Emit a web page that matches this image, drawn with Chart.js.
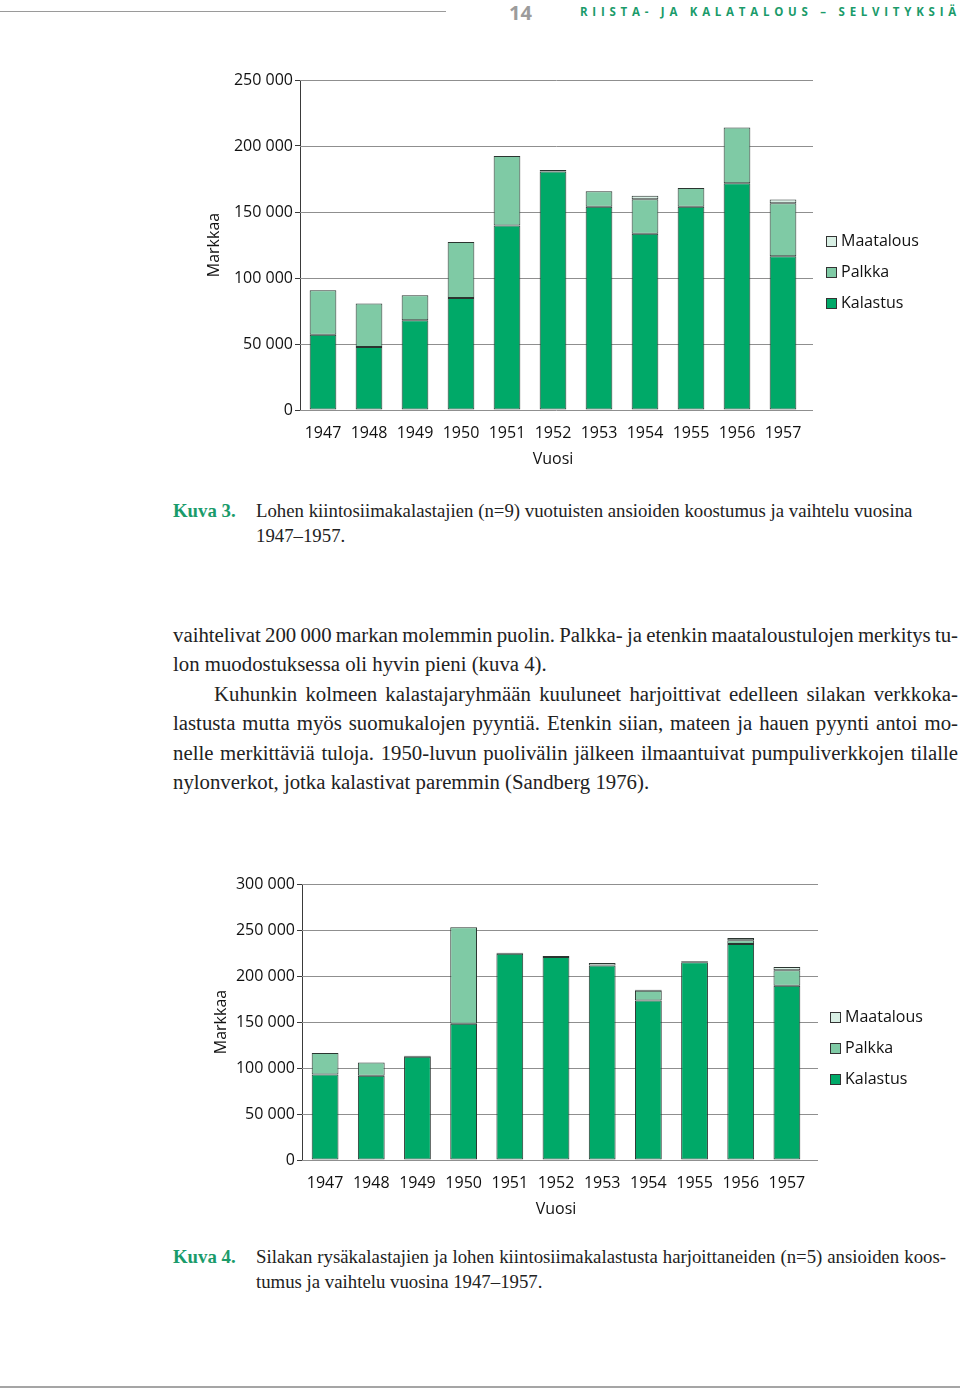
<!DOCTYPE html>
<html lang="fi">
<head>
<meta charset="utf-8">
<title>Kuva 3 ja Kuva 4</title>
<script src="https://cdn.jsdelivr.net/npm/chart.js@4.4.1/dist/chart.umd.min.js"></script>
<style>
  html, body { margin: 0; padding: 0; background: #fff; }
  body { width: 960px; height: 1391px; position: relative; overflow: hidden; }
  .abs { position: absolute; }
  .rule { position: absolute; height: 1px; background: #9a9a9a; }
  .pageno { left: 509px; top: -1px; font: bold 20px "Open Sans", sans-serif; color: #9c9c9c; }
  .series { left: 580px; top: 4px; font: bold 11.5px "Open Sans", sans-serif; color: #1a9b6a; letter-spacing: 4.75px; white-space: nowrap; }
  .legend { font: 16px "Open Sans", sans-serif; color: #111; }
  .legend div { height: 31px; line-height: 20px; white-space: nowrap; }
  .legend span { display: inline-block; width: 9px; height: 9px; border: 1px solid #333; margin-right: 4px; vertical-align: -1px; }
  .cap { font: 18.8px "Liberation Serif", "Times New Roman", serif; color: #222; line-height: 25px; }
  .cap b { color: #1a9b6a; position: absolute; left: 0; top: 0; }
  .cap .txt { position: absolute; left: 83px; top: 0; }
  .body { left: 173px; top: 620px; width: 785px; font: 20.8px "Liberation Serif", "Times New Roman", serif; color: #222; line-height: 29.4px; }
  .j { text-align: justify; text-align-last: justify; white-space: nowrap; word-spacing: -1.5px; }
  canvas { position: absolute; }
</style>
</head>
<body>
<div class="rule" style="left:0; top:11px; width:446px;"></div>
<div class="abs pageno">14</div>
<div class="abs series">RIISTA- JA KALATALOUS – SELVITYKSIÄ</div>

<canvas id="chart1" width="960" height="420" style="left:0; top:60px;"></canvas>
<div class="abs legend" style="left:826px; top:230px;">
  <div><span style="background:#d8efe4"></span>Maatalous</div>
  <div><span style="background:#7fcaa5"></span>Palkka</div>
  <div><span style="background:#00a968"></span>Kalastus</div>
</div>

<div class="abs cap" style="left:173px; top:498px; width:780px; height:60px;">
  <b>Kuva 3.</b>
  <div class="txt">Lohen kiintosiimakalastajien (n=9) vuotuisten ansioiden koostumus ja vaihtelu vuosina<br>1947–1957.</div>
</div>

<div class="abs body">
  <div class="j">vaihtelivat 200 000 markan molemmin puolin. Palkka- ja etenkin maataloustulojen merkitys tu-</div>
  <div>lon muodostuksessa oli hyvin pieni (kuva 4).</div>
  <div class="j" style="padding-left:41px;">Kuhunkin kolmeen kalastajaryhmään kuuluneet harjoittivat edelleen silakan verkkoka-</div>
  <div class="j">lastusta mutta myös suomukalojen pyyntiä. Etenkin siian, mateen ja hauen pyynti antoi mo-</div>
  <div class="j">nelle merkittäviä tuloja. 1950-luvun puolivälin jälkeen ilmaantuivat pumpuliverkkojen tilalle</div>
  <div>nylonverkot, jotka kalastivat paremmin (Sandberg 1976).</div>
</div>

<canvas id="chart2" width="960" height="370" style="left:0; top:860px;"></canvas>
<div class="abs legend" style="left:830px; top:1006px;">
  <div><span style="background:#d8efe4"></span>Maatalous</div>
  <div><span style="background:#7fcaa5"></span>Palkka</div>
  <div><span style="background:#00a968"></span>Kalastus</div>
</div>

<div class="abs cap" style="left:173px; top:1244px; width:773px; height:60px;">
  <b>Kuva 4.</b>
  <div class="txt" style="width:690px;"><div class="j">Silakan rysäkalastajien ja lohen kiintosiimakalastusta harjoittaneiden (n=5) ansioiden koos-</div>tumus ja vaihtelu vuosina 1947–1957.</div>
</div>

<div class="rule" style="left:0; top:1386px; width:960px; height:2px; background:#a5a5a5;"></div>

<script>
// years on the x axis
const years = ['1947', '1948', '1949', '1950', '1951', '1952', '1953', '1954', '1955', '1956', '1957'];

// Kuva 3: lohen kiintosiimakalastajat (markkaa)
const kalastus1 = [57000, 47700, 67900, 84900, 139800, 180600, 154000, 133500, 154000, 171800, 116500];
const palkka1 = [33700, 32900, 19000, 42300, 52700, 1200, 11700, 26100, 14200, 42300, 40100];
const maatalous1 = [0, 0, 0, 0, 0, 0, 0, 2800, 0, 0, 2800];
const ticks1 = [0, 50000, 100000, 150000, 200000, 250000];

// Kuva 4: silakan rysäkalastajat ja lohen kiintosiimakalastajat (markkaa)
const kalastus2 = [92900, 91500, 112200, 148100, 224300, 220700, 211300, 173500, 214900, 234900, 189500];
const palkka2 = [23300, 14500, 1000, 104900, 1000, 1000, 0, 10600, 1000, 3900, 16700];
const maatalous2 = [0, 0, 0, 0, 0, 0, 2900, 1000, 0, 2600, 3700];
const ticks2 = [0, 50000, 100000, 150000, 200000, 250000, 300000];

const COLORS = {
  kalastus: '#00a968',
  palkka: '#7fcaa5',
  maatalous: '#d8efe4',
  border: '#2b3530',
  grid: '#8f8f8f',
  axis: '#3a3a3a'
};

const FONT = '"Open Sans", sans-serif';

/**
 * Format a number as "250 000"
 */
function formatMarkka(value) {
  return String(value).replace(/\B(?=(\d{3})+(?!\d))/g, ' ');
}

// draws the horizontal grid lines a bit past the last bar, like the print
const longGrid = {
  id: 'longGrid',
  beforeDatasetsDraw(chart, args, opts) {
    const { ctx, chartArea } = chart;
    const y = chart.scales.y;
    ctx.save();
    ctx.strokeStyle = COLORS.grid;
    ctx.lineWidth = 1;
    y.ticks.forEach(t => {
      const py = Math.round(y.getPixelForValue(t.value)) + 0.5;
      ctx.beginPath();
      ctx.moveTo(chartArea.left, py);
      ctx.lineTo(chartArea.right + opts.extend, py);
      ctx.stroke();
    });
    ctx.restore();
  }
};

/**
 * Build one stacked bar chart
 */
function makeChart(id, kal, pal, maa, tickValues, box) {
  const ctx = document.getElementById(id).getContext('2d');
  const maxVal = tickValues[tickValues.length - 1];

  const barStyle = {
    borderColor: COLORS.border,
    borderWidth: 1,
    borderSkipped: false,
    barPercentage: 0.58,
    categoryPercentage: 1
  };

  return new Chart(ctx, {
    type: 'bar',
    data: {
      labels: years,
      datasets: [
        { label: 'Kalastus', data: kal, backgroundColor: COLORS.kalastus, ...barStyle },
        { label: 'Palkka', data: pal, backgroundColor: COLORS.palkka, ...barStyle },
        { label: 'Maatalous', data: maa, backgroundColor: COLORS.maatalous, ...barStyle }
      ]
    },
    options: {
      responsive: false,
      animation: false,
      events: [],
      layout: {
        padding: { left: box.left, top: box.top, right: box.right, bottom: box.bottom }
      },
      plugins: {
        legend: { display: false },
        tooltip: { enabled: false },
        longGrid: { extend: box.extend }
      },
      scales: {
        x: {
          stacked: true,
          offset: true,
          grid: { display: false, drawTicks: false },
          border: { display: false },
          ticks: { color: '#111', font: { family: FONT, size: 16 }, padding: box.tickPad, maxRotation: 0 },
          title: { display: true, text: 'Vuosi', color: '#111', font: { family: FONT, size: 16 }, padding: { top: 2, bottom: 1 } },
          afterFit(scale) { scale.height = 60; }
        },
        y: {
          stacked: true,
          min: 0,
          max: maxVal,
          afterBuildTicks(scale) {
            scale.ticks = tickValues.map(v => ({ value: v }));
          },
          grid: { drawOnChartArea: false, drawTicks: true, tickLength: 5, color: COLORS.axis },
          border: { display: true, color: COLORS.axis, width: 1 },
          ticks: {
            color: '#111',
            font: { family: FONT, size: 16 },
            padding: 2,
            callback: v => formatMarkka(v)
          },
          title: { display: true, text: 'Markkaa', color: '#111', font: { family: FONT, size: 16 }, padding: { top: 5, bottom: 0 } },
          afterFit(scale) { scale.width = box.axisWidth; }
        }
      }
    },
    plugins: [longGrid]
  });
}

makeChart('chart1', kalastus1, palkka1, maatalous1, ticks1, {
  left: 200, top: 20, right: 960 - 806, bottom: 10, extend: 7, axisWidth: 100, tickPad: 14
});

makeChart('chart2', kalastus2, palkka2, maatalous2, ticks2, {
  left: 207, top: 24, right: 960 - 810, bottom: 10, extend: 8, axisWidth: 95, tickPad: 14
});
</script>
</body>
</html>
